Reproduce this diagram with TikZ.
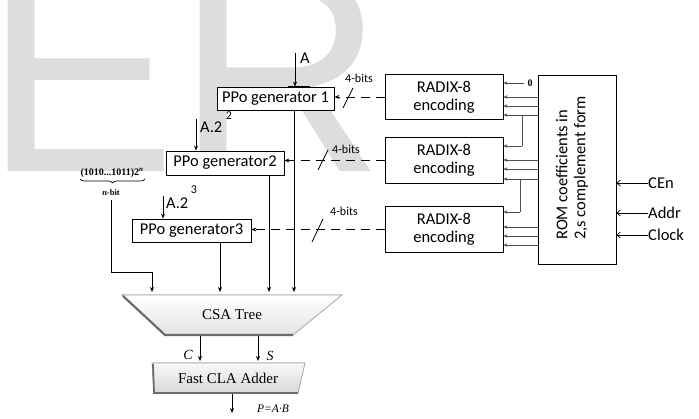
\documentclass[tikz,border=0pt]{standalone}
\usepackage{fontspec}
\setmainfont{Carlito}
\newfontfamily\tnr{Liberation Serif}
\newfontfamily\wmfont{Liberation Sans}
\usetikzlibrary{arrows.meta,decorations.pathreplacing}
\definecolor{wmgray}{RGB}{221,221,221}
\definecolor{lgray}{RGB}{80,80,80}
\begin{document}
\begin{tikzpicture}[x=1pt,y=-1pt,
  box/.style={draw, fill=white, line width=0.8pt, inner sep=0pt, align=center,
    font=\fontsize{16.5}{18}\selectfont},
  lbl/.style={inner sep=0pt, font=\fontsize{16.5}{18}\selectfont},
  small/.style={inner sep=0pt, font=\fontsize{12}{13}\selectfont},
  arr/.style={line width=0.8pt, -{Stealth[length=5pt,width=4pt]}},
  garr/.style={line width=0.8pt, draw=lgray, -{Stealth[length=4pt,width=3.5pt]}},
  oarr/.style={line width=0.7pt, -{Straight Barb[length=3.5pt,width=6pt]}},
  dsh/.style={line width=0.9pt, dash pattern=on 9pt off 6pt, -{Stealth[length=5pt,width=4pt]}},
  slash/.style={line width=0.8pt},
  serif/.style={inner sep=0pt, font=\tnr\fontsize{15}{16}\selectfont}]
\useasboundingbox (0,0) rectangle (699,419);
% watermark
\node[anchor=base west, inner sep=0pt, text=wmgray,
  font=\wmfont\fontsize{288}{288}\selectfont] (wm) at (-16,172) {ER};

% PPo generators
\node[box, minimum width=117pt, minimum height=23pt] (p1) at (275.5,98.5) {PPo generator 1};
\node[box, minimum width=118pt, minimum height=24pt] (p2) at (225,163) {PPo generator2};
\node[box, minimum width=119pt, minimum height=23pt] (p3) at (191.5,230.5) {PPo generator3};

% RADIX boxes
\node[box, minimum width=118pt, minimum height=45pt] (r1) at (444,97) {RADIX-8\\encoding};
\node[box, minimum width=118pt, minimum height=46pt] (r2) at (444,160.5) {RADIX-8\\encoding};
\node[box, minimum width=118pt, minimum height=46pt] (r3) at (444,229.5) {RADIX-8\\encoding};

% ROM
\node[box, minimum width=78pt, minimum height=189pt] (rom) at (577,169.5) {};
\node[lbl, rotate=90, align=left] (romtxt) at (572,168) {ROM coefficients in\\2,s complement form};

% input A
\node[lbl] (la) at (305,58) {A};
\coordinate (ain) at (295,53);
\draw[arr] (ain) -- (ain |- p1.north);
\draw[line width=2pt] ([xshift=-7pt]ain |- p1.north) -- ([xshift=15pt]ain |- p1.north);

% A.2^2
\coordinate (a2) at (196,119);
\draw[arr] (a2) -- (a2 |- p2.north);
\node[lbl, anchor=west] (la2) at (200,127) {A.2};
\node[small] (la2s) at (229,116) {2};
% A.2^3
\coordinate (a3) at (163,196);
\draw[arr] (a3) -- (a3 |- p3.north);
\node[lbl, anchor=west] (la3) at (166,203) {A.2};
\node[small] (la3s) at (194,190) {3};

% dashed 4-bit links
\draw[dsh] (r1.west) -- (r1.west -| p1.east);
\draw[dsh] (r2.west) -- (r2.west -| p2.east);
\draw[dsh] (r3.west) -- (r3.west -| p3.east);
\draw[slash] (343,108) -- (353,88);
\draw[slash] (318,170) -- (328,150);
\draw[slash] (312,242) -- (323,219);
\node[small] (b1) at (359,78) {4-bits};
\node[small] (b2) at (346,149) {4-bits};
\node[small] (b3) at (344,211) {4-bits};

% constant input
\node[inner sep=0pt, font=\tnr\bfseries\fontsize{10}{11}\selectfont] (z0) at (530,83) {0};
\draw[garr] (z0.west) ++(-3,0) coordinate (z0s) -- (z0s -| r1.east);
% ROM -> RADIX lines
\foreach \y in {97,106,115} \draw[garr] (rom.west |- 0,\y) -- (r1.east |- 0,\y);
\coordinate (br1) at (522,115);
\draw[line width=0.8pt, draw=lgray] (br1) -- (522,146);
\draw[garr] (522,146) -- (r2.east |- 0,146);
\foreach \y in {160,169,179} \draw[garr] (rom.west |- 0,\y) -- (r2.east |- 0,\y);
\coordinate (br2) at (520,179);
\draw[line width=0.8pt, draw=lgray] (br2) -- (520,212);
\draw[garr] (520,212) -- (r3.east |- 0,212);
\foreach \y in {227,236,245} \draw[garr] (rom.west |- 0,\y) -- (r3.east |- 0,\y);

% ROM control inputs
\node[lbl, anchor=west] (cen) at (648,183) {CEn};
\node[lbl, anchor=west] (addr) at (648,213) {Addr};
\node[lbl, anchor=west] (clk) at (648,235) {Clock};
\draw[oarr] (cen.west) -- (cen.west -| rom.east);
\draw[oarr] (addr.west) -- (addr.west -| rom.east);
\draw[oarr] (clk.west) -- (clk.west -| rom.east);

% constant with brace
\node[inner sep=0pt, font=\tnr\bfseries\fontsize{10}{11}\selectfont] (konst) at (112,173)
  {(1010...1011)2\textsuperscript{\itshape n}};
\draw[line width=0.7pt, decorate, decoration={brace, amplitude=4pt, mirror}]
  (80,179) -- (145,179);
\node[inner sep=0pt, font=\tnr\bfseries\fontsize{8.5}{9}\selectfont] (nbit) at (111,193) {\itshape n\upshape -bit};

% CSA tree
\fill[top color=white, bottom color=gray!22] (122,295) -- (342,295) -- (293,335) -- (165,335) -- cycle;
\draw[gray!70, line width=0.7pt] (165,335) -- (122,295) -- (342,295) -- (293,335);
\draw[gray!85!black, line width=2.2pt] (123,296) -- (165,335) -- (293,335);
\node[serif] (csa) at (232,315) {CSA Tree};
\coordinate (t1) at (152,292);
\coordinate (t2) at (220,292);
\coordinate (t3) at (269,292);
\coordinate (t4) at (294,292);

% partial products into CSA
\draw[arr] (nbit.south -| 111,0) ++(0,4) -- (111,272) -- (t1 |- 0,272) -- (t1);
\draw[arr] (t2 |- p3.south) -- (t2);
\draw[arr] (t3 |- p2.south) -- (t3);
\draw[arr] (t4 |- p1.south) -- (t4);

% CLA adder
\fill[top color=gray!5, bottom color=gray!30] (152,363) -- (305,363) -- (298,393) -- (154,393) -- cycle;
\draw[gray!70, line width=0.7pt] (154,393) -- (152,363) -- (305,363) -- (298,393);
\draw[gray!85!black, line width=1.8pt] (153,364) -- (154,393) -- (298,393);
\node[serif] (cla) at (228,378) {Fast CLA Adder};
\coordinate (cc) at (200,336);
\coordinate (ss) at (258,336);
\draw[arr] (cc) -- (200,361);
\draw[arr] (ss) -- (258,361);
\node[serif, font=\tnr\itshape\fontsize{14}{15}\selectfont] (lc) at (188,355) {C};
\node[serif, font=\tnr\itshape\fontsize{14}{15}\selectfont] (ls) at (270,356) {S};
\coordinate (po) at (232,394);
\draw[arr] (po) -- (232,413);
\node[serif, font=\tnr\itshape\fontsize{11.5}{12}\selectfont, anchor=west] (lp) at (257,409) {P=A·B};
\end{tikzpicture}
\end{document}
